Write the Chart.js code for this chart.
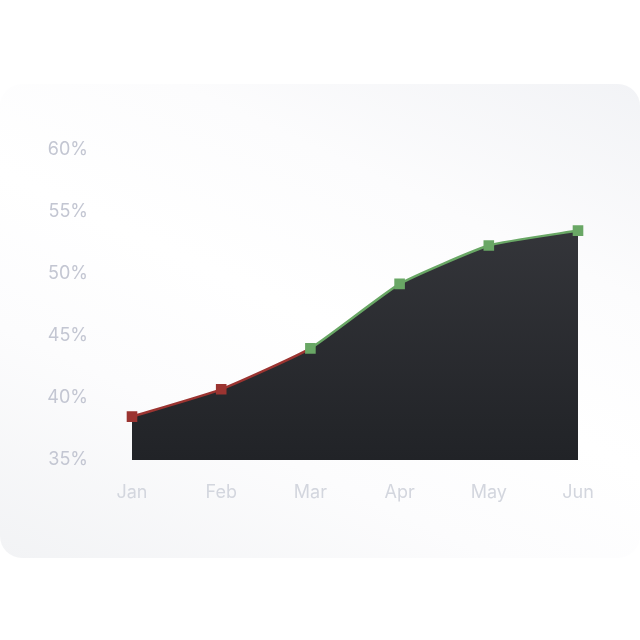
<!DOCTYPE html>
<html>
<head>
<meta charset="utf-8">
<script src="https://cdn.jsdelivr.net/npm/chart.js@4.4.1/dist/chart.umd.min.js"></script>
<style>
  html, body { margin: 0; padding: 0; background: #ffffff; }
  .wrap { position: relative; width: 640px; height: 640px; overflow: hidden; }
  .panel {
    position: absolute; left: 0; top: 84px; width: 640px; height: 474px;
    border-radius: 22px;
    background: linear-gradient(25deg, #f2f3f5 0%, #fcfcfd 30%, #ffffff 50%, #fcfcfd 72%, #f2f3f6 100%);
  }
  canvas { position: absolute; left: 0; top: 0; }
</style>
</head>
<body>
<div class="wrap">
  <div class="panel"></div>
  <canvas id="grafica" width="640" height="640"></canvas>
</div>
<script>
// datos de la grafica
const months = ["Jan", "Feb", "Mar", "Apr", "May", "Jun"];
const rates = [38.5, 40.7, 44.0, 49.2, 52.3, 53.5];
const yTicks = [35, 40, 45, 50, 55, 60];

const red = "#9b3431";
const green = "#69a765";

document.addEventListener("DOMContentLoaded", function () {
  const ctx = document.getElementById("grafica");

  new Chart(ctx, {
    type: "line",
    data: {
      labels: months,
      datasets: [
        {
          // linea con puntos
          data: rates,
          borderWidth: 2.5,
          tension: 0.15,
          fill: false,
          segment: {
            borderColor: (c) => (c.p0DataIndex < 2 ? red : green),
          },
          borderColor: green,
          pointStyle: "rect",
          pointRadius: 7.5,
          pointHoverRadius: 7.5,
          pointBorderWidth: 0,
          pointBackgroundColor: rates.map((v, i) => (i < 2 ? red : green)),
        },
        {
          // relleno oscuro
          data: rates,
          borderWidth: 0,
          tension: 0.15,
          pointRadius: 0,
          fill: "start",
          backgroundColor: function (context) {
            const area = context.chart.chartArea;
            if (!area) return "#2c2d31";
            const g = context.chart.ctx.createLinearGradient(0, area.top, 0, area.bottom);
            g.addColorStop(0, "#3a3b40");
            g.addColorStop(1, "#212327");
            return g;
          },
        },
      ],
    },
    options: {
      responsive: false,
      animation: false,
      layout: { padding: { left: 47, right: 62, top: 150, bottom: 0 } },
      plugins: { legend: { display: false }, tooltip: { enabled: false } },
      scales: {
        x: {
          offset: false,
          grid: { display: false, drawTicks: false },
          border: { display: false },
          ticks: { color: "#d3d6de", font: { family: "Inter", size: 18 }, padding: 22 },
          afterFit: (s) => { s.height = 180; },
        },
        y: {
          min: 35,
          max: 60,
          afterBuildTicks: (s) => { s.ticks = yTicks.map((v) => ({ value: v })); },
          grid: { display: false, drawTicks: false },
          border: { display: false },
          ticks: {
            color: "#c3c6d2",
            font: { family: "Inter", size: 18 },
            padding: 44,
            callback: (v) => v + "%",
          },
          afterFit: (s) => { s.width = 85; },
        },
      },
    },
  });
});
</script>
</body>
</html>
